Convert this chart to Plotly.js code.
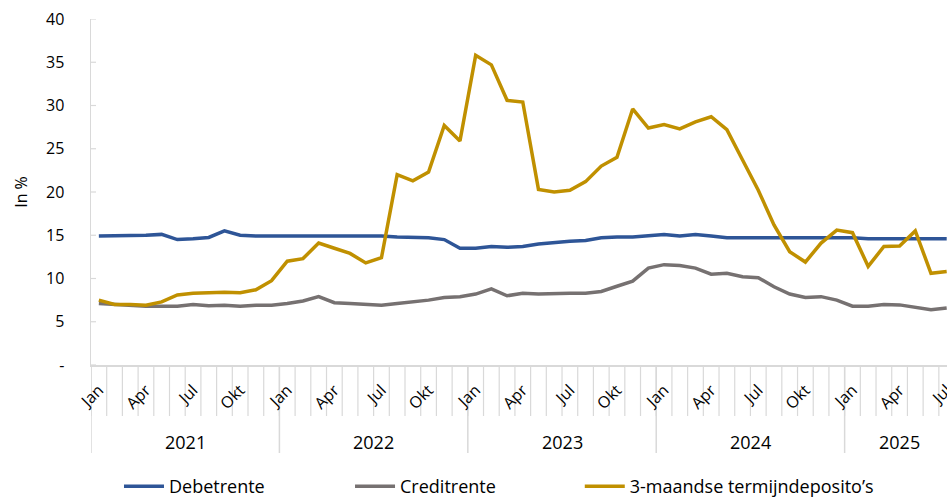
<!DOCTYPE html>
<html>
<head>
<meta charset="utf-8">
<script src="https://cdn.plot.ly/plotly-3.0.1.min.js"></script>
<style>html,body{margin:0;padding:0;background:#fff}#chart{width:947px;height:499px}</style>
</head>
<body>
<div id="chart"></div>
<script>
// Months Jan 2021 .. Jul 2025
const monthNames = ["Jan","Feb","Mrt","Apr","Mei","Jun","Jul","Aug","Sep","Okt","Nov","Dec"];
const years = [2021, 2022, 2023, 2024, 2025];
const lastYearMonths = 7;
const shownMonths = ["Jan","Apr","Jul","Okt"];
const yTickVals = [0, 5, 10, 15, 20, 25, 30, 35, 40];
const yTickText = ["-", "5", "10", "15", "20", "25", "30", "35", "40"];

const debetrente = [
  14.9,14.9,15.0,15.0,15.1,14.5,14.6,14.75,15.5,15.0,14.9,14.9,
  15.0,15.0,15.0,15.0,15.0,15.0,14.9,14.8,14.8,14.7,14.5,13.5,
  13.5,13.7,13.6,13.7,14.0,14.1,14.3,14.4,14.7,14.8,14.8,14.95,
  15.1,14.9,15.1,14.9,14.7,14.7,14.7,14.7,14.7,14.7,14.8,14.8,
  14.7,14.6,14.6,14.6,14.6,14.6,14.6
];
const creditrente = [
  7.1,7.0,6.9,6.8,6.8,6.8,7.0,6.85,6.9,6.8,6.9,6.9,
  7.1,7.4,7.9,7.2,7.1,7.0,6.9,7.1,7.3,7.5,7.8,7.9,
  8.2,8.8,8.0,8.3,8.2,8.3,8.3,8.3,8.5,9.1,9.7,11.2,
  11.6,11.5,11.2,10.5,10.6,10.2,10.1,9.05,8.2,7.8,7.9,7.5,
  6.8,6.8,7.0,6.95,6.7,6.4,6.6
];
const termijndeposito = [
  7.5,7.0,7.0,6.9,7.3,8.1,8.3,8.4,8.4,8.35,8.7,9.75,
  12.0,12.3,14.1,13.5,12.9,11.8,12.4,22.0,21.3,22.3,27.7,25.9,
  35.8,34.7,30.6,30.4,20.3,20.0,20.2,21.2,23.0,24.0,29.6,27.4,
  27.8,27.3,28.1,28.7,27.2,23.7,20.2,16.2,13.1,11.9,14.1,15.6,
  15.3,11.4,13.7,13.75,15.5,10.6,10.8
];

// Build month/year index from the category arrays
const idx = [], monthOf = [], yearOf = [];
years.forEach((yr, yi) => {
  const n = (yi === years.length - 1) ? lastYearMonths : 12;
  for (let m = 0; m < n; m++) { idx.push(idx.length); monthOf.push(monthNames[m]); yearOf.push(yr); }
});
const tickVals = idx.filter(i => shownMonths.includes(monthOf[i]));
const tickText = tickVals.map(i => monthOf[i]);
const monthBounds = [-0.5].concat(idx.map(i => i + 0.5));
const yearCenters = years.map(yr => { const a = idx.filter(i => yearOf[i] === yr); return (a[0] + a[a.length - 1]) / 2; });
const yearBounds = years.map(yr => idx.find(i => yearOf[i] === yr) - 0.5);

const font = '"Open Sans", verdana, arial, sans-serif';
const names = ["Debetrente", "Creditrente", "3-maandse termijndeposito’s"];
const colors = ["#2e5597", "#767171", "#c09000"];
const series = [debetrente, creditrente, termijndeposito];
const legendX = [0.0327, 0.3026, 0.571];
const gridCol = "#d9d9d9";
const plotH = 346, plotW = 856;

const traces = series.map((s, k) => ({
  x: idx, y: s, name: names[k], type: "scatter", mode: "lines",
  line: {color: colors[k], width: 3.5},
  legend: k === 0 ? "legend" : "legend" + (k + 1)
}));

const legendBase = (x) => ({orientation: "h", xref: "paper", x: x, xanchor: "left",
  yref: "container", y: 0.062, yanchor: "top", bgcolor: "rgba(0,0,0,0)",
  itemwidth: 40, font: {family: font, size: 18, color: "#000"}});

// Month boundary ticks, year separators and small inside y ticks
const monthShapes = monthBounds.map(b => ({
  type: "line", xref: "x", yref: "paper", x0: b, x1: b, y0: 0, y1: -51 / plotH,
  line: {color: gridCol, width: 1.2}, layer: "below"
}));
const yearShapes = yearBounds.map(b => ({
  type: "line", xref: "x", yref: "paper", x0: b, x1: b, y0: 0, y1: -88 / plotH,
  line: {color: gridCol, width: 1.5}, layer: "below"
}));
const yTickShapes = yTickVals.map(v => ({
  type: "line", xref: "paper", yref: "y", x0: 0, x1: 5 / plotW, y0: v, y1: v,
  line: {color: gridCol, width: 1.2}, layer: "below"
}));
const yearAnnotations = years.map((yr, i) => ({
  xref: "x", yref: "paper", x: yearCenters[i], y: -77 / plotH, yanchor: "middle",
  text: String(yr), showarrow: false, font: {family: font, size: 18, color: "#000"}
}));

const layout = {
  width: 947, height: 499,
  margin: {l: 91, r: 0, t: 19, b: 134},
  paper_bgcolor: "#fff", plot_bgcolor: "#fff",
  font: {family: font},
  showlegend: true,
  legend: legendBase(legendX[0]),
  legend2: legendBase(legendX[1]),
  legend3: legendBase(legendX[2]),
  shapes: monthShapes.concat(yearShapes, yTickShapes),
  annotations: yearAnnotations,
  xaxis: {
    range: [-0.5, 54.02], showgrid: false, zeroline: false,
    showline: true, linecolor: gridCol, linewidth: 1.5,
    tickmode: "array", tickvals: tickVals, ticktext: tickText,
    tickangle: -45, ticks: "outside", ticklen: 8, tickcolor: "rgba(255,255,255,0)",
    ticklabeloverflow: "allow",
    tickfont: {family: font, size: 16, color: "#000"}
  },
  yaxis: {
    range: [0, 40], showgrid: false, zeroline: false,
    showline: true, linecolor: gridCol, linewidth: 1.5,
    tickmode: "array", tickvals: yTickVals, ticktext: yTickText,
    ticks: "outside", ticklen: 22, tickcolor: "rgba(255,255,255,0)",
    tickfont: {family: font, size: 16, color: "#000"},
    title: {text: "In %", font: {family: font, size: 16, color: "#000"}, standoff: 14}
  }
};

Plotly.newPlot("chart", traces, layout, {displayModeBar: false, staticPlot: true});
</script>
</body>
</html>
